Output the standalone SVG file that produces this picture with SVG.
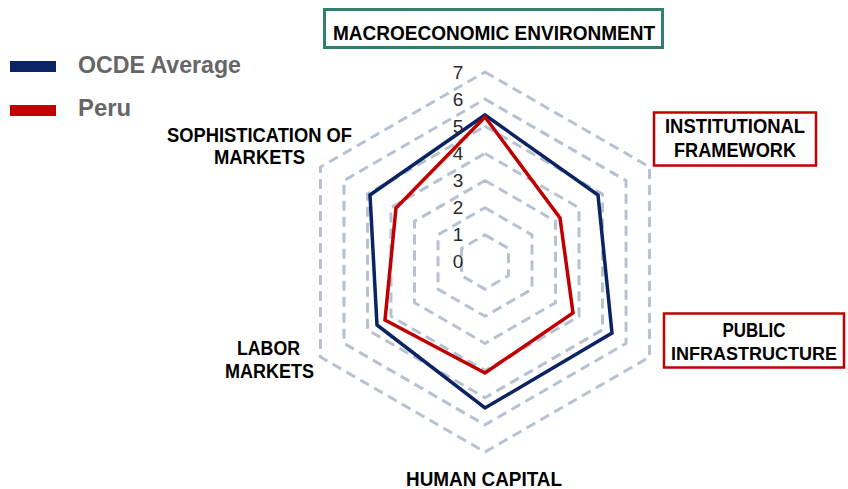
<svg xmlns="http://www.w3.org/2000/svg" width="848" height="489" viewBox="0 0 848 489">
<style>
.grid{fill:none;stroke:#b6c1d2;stroke-width:3;stroke-dasharray:10 6;stroke-linejoin:round}
.lbl{font-family:"Liberation Sans",Arial,sans-serif;font-weight:bold;fill:#000;text-anchor:middle;font-size:20px}
.tick{font-family:"Liberation Sans",Arial,sans-serif;font-size:19px;fill:#2a2a2a;text-anchor:middle}
.leg{font-family:"Liberation Sans",Arial,sans-serif;font-weight:bold;font-size:24px;fill:#666}
.series{fill:none;stroke-width:3.5;stroke-linejoin:miter}
</style>
<rect width="848" height="489" fill="#fff"/>
<g id="grid">
<polygon class="grid" points="485,234.86 508.5,248.43 508.5,275.57 485,289.14 461.5,275.57 461.5,248.43"/>
<polygon class="grid" points="485,207.71 532.01,234.86 532.01,289.14 485,316.29 437.99,289.14 437.99,234.86"/>
<polygon class="grid" points="485,180.57 555.52,221.29 555.52,302.71 485,343.43 414.48,302.71 414.48,221.29"/>
<polygon class="grid" points="485,153.43 579.02,207.71 579.02,316.29 485,370.57 390.98,316.29 390.98,207.71"/>
<polygon class="grid" points="485,126.29 602.53,194.14 602.53,329.86 485,397.71 367.47,329.86 367.47,194.14"/>
<polygon class="grid" points="485,99.14 626.04,180.57 626.04,343.43 485,424.86 343.96,343.43 343.96,180.57"/>
<polygon class="grid" points="485,72 649.54,167 649.54,357 485,452 320.46,357 320.46,167"/>
</g>
<g id="series">
<polygon class="series" stroke="#0a2463" points="485,115 598,195 612,333 485,408 377,325 370,195"/>
<polygon class="series" stroke="#c00000" points="485,117 560,218 573,313 485,373 385,320 396,208"/>
</g>
<g id="ticks">
<text class="tick" x="458" y="79">7</text>
<text class="tick" x="458" y="106">6</text>
<text class="tick" x="458" y="133">5</text>
<text class="tick" x="458" y="160">4</text>
<text class="tick" x="458" y="187">3</text>
<text class="tick" x="458" y="214">2</text>
<text class="tick" x="458" y="241">1</text>
<text class="tick" x="458" y="268">0</text>
</g>
<g id="legend">
<rect x="10" y="61" width="46" height="11" fill="#0a2463"/>
<text class="leg" x="78" y="73" textLength="163" lengthAdjust="spacingAndGlyphs">OCDE Average</text>
<rect x="10" y="105" width="46" height="11" fill="#c00000"/>
<text class="leg" x="78" y="116" textLength="53" lengthAdjust="spacingAndGlyphs">Peru</text>
</g>
<g id="macro">
<rect x="324.5" y="9.5" width="338" height="38" fill="#fff" stroke="#31806f" stroke-width="3"/>
<text class="lbl" x="494" y="40" style="font-size:21px" textLength="322" lengthAdjust="spacingAndGlyphs">MACROECONOMIC ENVIRONMENT</text>
</g>
<g id="institutional">
<rect x="654" y="112.5" width="162" height="53" fill="#fff" stroke="#c00000" stroke-width="2.5"/>
<text class="lbl" x="735" y="133" textLength="140" lengthAdjust="spacingAndGlyphs">INSTITUTIONAL</text>
<text class="lbl" x="735" y="157" textLength="122" lengthAdjust="spacingAndGlyphs">FRAMEWORK</text>
</g>
<g id="infrastructure">
<rect x="664" y="313.5" width="180" height="54" fill="#fff" stroke="#c00000" stroke-width="2.5"/>
<text class="lbl" x="754" y="337" textLength="63" lengthAdjust="spacingAndGlyphs">PUBLIC</text>
<text class="lbl" x="754" y="360" style="font-size:18px">INFRASTRUCTURE</text>
</g>
<g id="human">
<text class="lbl" x="484" y="486" textLength="156" lengthAdjust="spacingAndGlyphs">HUMAN CAPITAL</text>
</g>
<g id="labor">
<text class="lbl" x="268.5" y="355" textLength="63" lengthAdjust="spacingAndGlyphs">LABOR</text>
<text class="lbl" x="269.5" y="378" textLength="89" lengthAdjust="spacingAndGlyphs">MARKETS</text>
</g>
<g id="sophistication">
<text class="lbl" x="259.5" y="142" textLength="185" lengthAdjust="spacingAndGlyphs">SOPHISTICATION OF</text>
<text class="lbl" x="259.5" y="164" textLength="91" lengthAdjust="spacingAndGlyphs">MARKETS</text>
</g>
</svg>
